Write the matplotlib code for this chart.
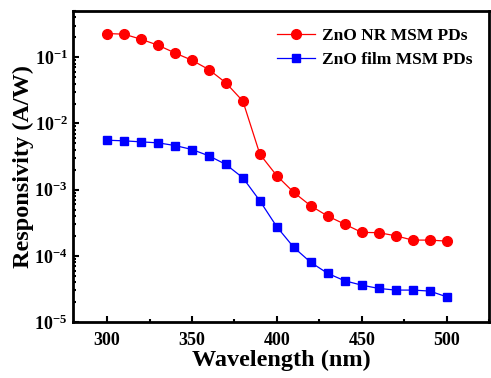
import matplotlib
matplotlib.use("Agg")
import matplotlib.pyplot as plt
from matplotlib.ticker import MultipleLocator, LogLocator, LogFormatterMathtext, NullFormatter

plt.rcParams['font.family'] = 'Liberation Serif'
plt.rcParams['font.weight'] = 'bold'
plt.rcParams['mathtext.fontset'] = 'custom'
plt.rcParams['mathtext.rm'] = 'Liberation Serif:bold'
plt.rcParams['mathtext.bf'] = 'Liberation Serif:bold'
plt.rcParams['mathtext.default'] = 'rm'

# wavelength (nm)
wavelength = [300, 310, 320, 330, 340, 350, 360, 370, 380, 390, 400,
              410, 420, 430, 440, 450, 460, 470, 480, 490, 500]

# responsivity (A/W)
nr_resp = [0.228, 0.223, 0.187, 0.152, 0.116, 0.090, 0.065, 0.041, 0.0217,
           0.00343, 0.00162, 0.000907, 0.000569, 0.000398, 0.000301,
           0.000226, 0.000224, 0.000201, 0.000173, 0.000173, 0.000167]
film_resp = [0.00558, 0.00546, 0.00527, 0.00509, 0.00464, 0.00404, 0.00324,
             0.00240, 0.00151, 0.000677, 0.000274, 0.000134, 7.96e-5,
             5.43e-5, 4.20e-5, 3.61e-5, 3.22e-5, 3.04e-5, 3.04e-5,
             2.94e-5, 2.41e-5]

fig = plt.figure(figsize=(4.91, 3.78), dpi=100)
ax = fig.add_axes([0.149, 0.148, 0.847, 0.823])

ax.plot(wavelength, nr_resp, color='red', lw=0.9, marker='o', ms=7,
        markerfacecolor='red', markeredgecolor='red', label='ZnO NR MSM PDs')
ax.plot(wavelength, film_resp, color='blue', lw=0.9, marker='s', ms=5.8,
        markerfacecolor='blue', markeredgecolor='blue', label='ZnO film MSM PDs')

ax.set_yscale('log')
ax.set_xlim(280, 525)
ax.set_ylim(1e-5, 0.5)

ax.xaxis.set_major_locator(MultipleLocator(50))
ax.xaxis.set_minor_locator(MultipleLocator(25))
ax.yaxis.set_major_locator(LogLocator(base=10, numticks=10))
ax.yaxis.set_major_formatter(LogFormatterMathtext())
ax.yaxis.set_minor_locator(LogLocator(base=10, subs=range(2, 10), numticks=10))
ax.yaxis.set_minor_formatter(NullFormatter())

ax.tick_params(which='both', direction='in', top=False, right=False,
               labelsize=13, width=1.5)
ax.tick_params(which='major', length=4.5)
ax.tick_params(which='minor', length=2.5)
ax.tick_params(axis='x', which='major', pad=7)
ax.tick_params(axis='y', which='major', pad=4)
for s in ax.spines.values():
    s.set_linewidth(2)

ax.set_xlabel('Wavelength (nm)', fontsize=17.5, fontweight='bold', labelpad=1)
ax.set_ylabel('Responsivity (A/W)', fontsize=17.5, fontweight='bold', labelpad=0)

leg = ax.legend(loc='upper right', frameon=False, fontsize=12.5,
                handlelength=2.2, borderaxespad=0.4, labelspacing=0.45,
                handletextpad=0.4, bbox_to_anchor=(0.993, 0.99))

fig.savefig('out.png', dpi=100)
